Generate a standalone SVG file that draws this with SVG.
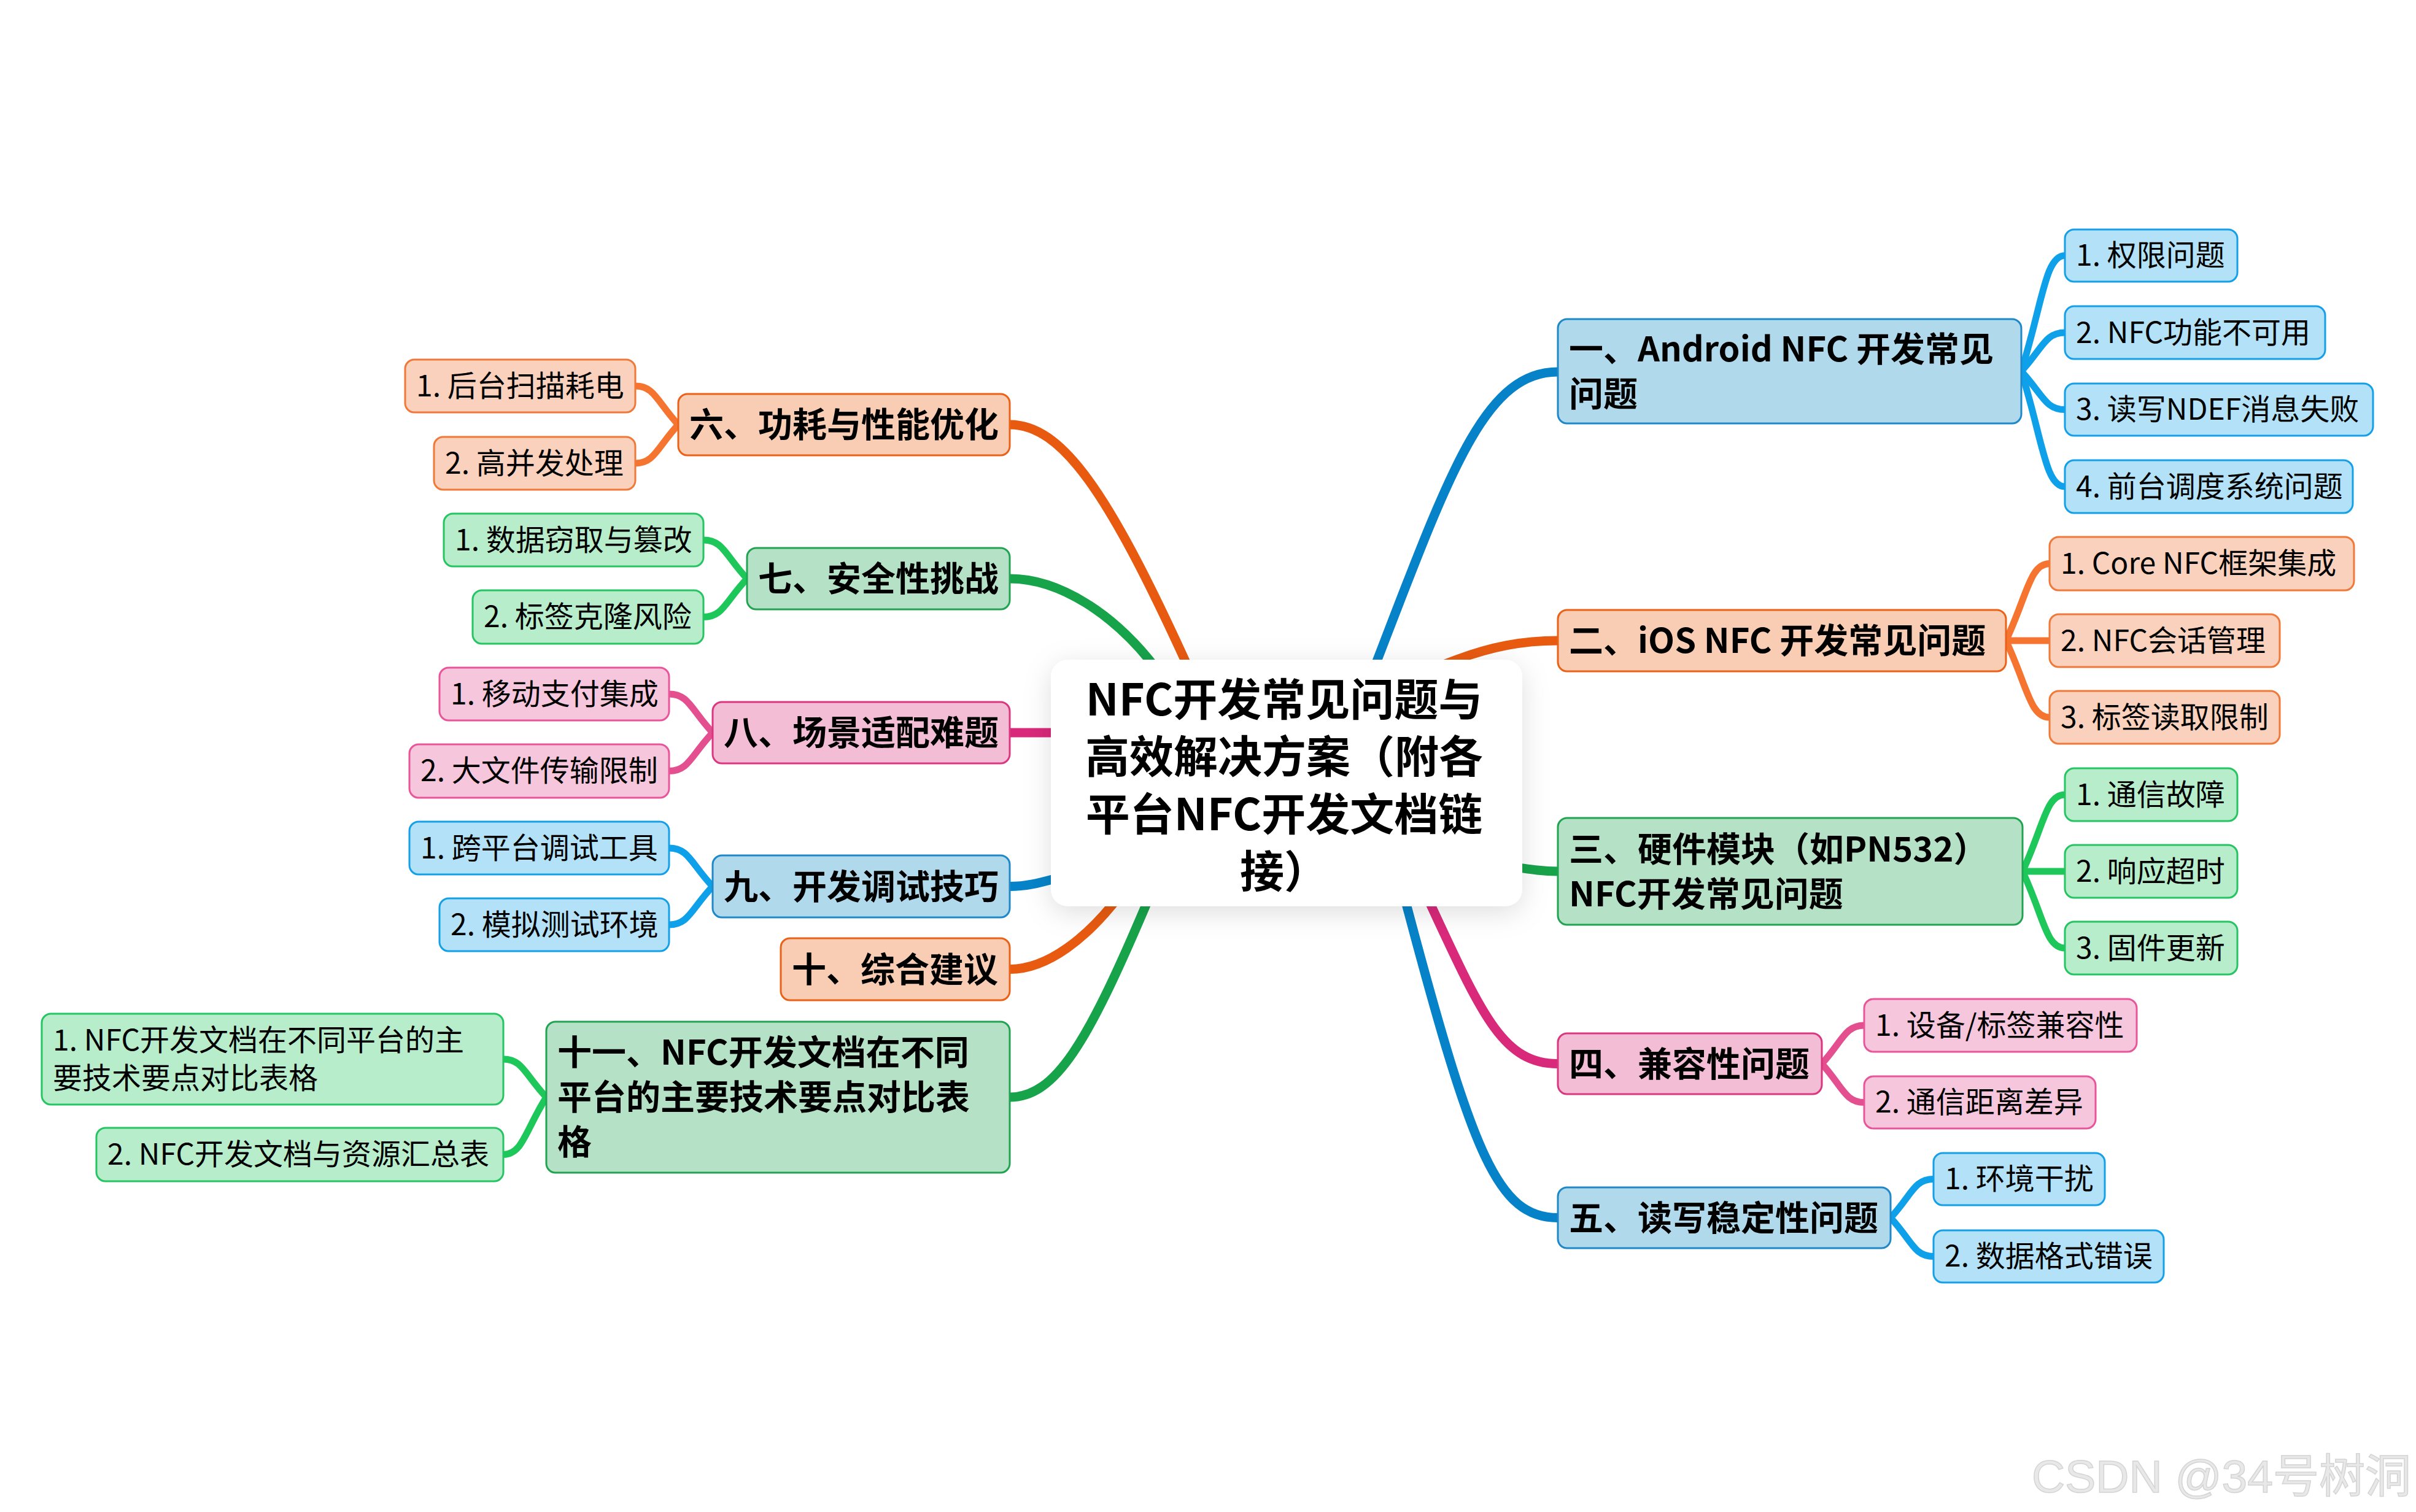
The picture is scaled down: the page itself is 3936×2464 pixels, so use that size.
<svg xmlns="http://www.w3.org/2000/svg" width="3936" height="2464" viewBox="0 0 3936 2464">
<defs>
<style>
text{font-family:"Noto Sans CJK SC","Noto Sans",sans-serif;fill:#000}
.root{font-size:72px;font-weight:700}
.mt{font-size:56px;font-weight:700}
.st{font-size:48px;font-weight:400}
.mc{fill:none;stroke-width:15;stroke-linecap:round}
.sc{fill:none;stroke-width:11;stroke-linecap:round}
.box{stroke-width:3}
.bM{fill:#b1d9ec;stroke:#1e88c8}.bS{fill:#b3e2f8;stroke:#14a0e8}
.oM{fill:#f8cdb3;stroke:#ea6118}.oS{fill:#f9d1bc;stroke:#f07838}
.gM{fill:#b5e2c6;stroke:#22a352}.gS{fill:#b7edcb;stroke:#26c462}
.pM{fill:#f2bdd5;stroke:#da3780}.pS{fill:#f6c6dc;stroke:#e8559a}
.bMc{stroke:#0683c8}.bSc{stroke:#0fa0ea}
.oMc{stroke:#e85a10}.oSc{stroke:#f47430}
.gMc{stroke:#17a34a}.gSc{stroke:#1ec75a}
.pMc{stroke:#d9297a}.pSc{stroke:#e4508f}
.wm{font-family:"Liberation Sans","Noto Sans CJK SC",sans-serif;font-size:75px;fill:#e8e8e8;stroke:#d4d4d4;stroke-width:1.5}
</style>
<filter id="sh" x="-20%" y="-30%" width="140%" height="160%">
<feDropShadow dx="0" dy="10" stdDeviation="22" flood-color="#000" flood-opacity="0.13"/>
</filter>
</defs>
<rect width="3936" height="2464" fill="#fff"/>

<g id="connectors">
<path class="mc bMc" d="M2221,1135 L2244,1075 C2364,763 2420,606 2538,606"/>
<path class="mc oMc" d="M2298,1103 L2373,1075 C2429,1054 2480,1044 2538,1044"/>
<path class="mc gMc" d="M2400,1404 C2470,1412 2500,1420 2538,1420"/>
<path class="mc pMc" d="M2298,1404 L2332,1477 C2416,1658 2450,1733.5 2538,1733.5"/>
<path class="mc bMc" d="M2271,1400 L2292,1477 C2400,1883 2440,1984.5 2538,1984.5"/>
<path class="mc oMc" d="M1963,1148 L1930,1075 C1805,802 1730,692 1645,692"/>
<path class="mc gMc" d="M1922,1137 L1872,1075 C1815,1005 1730,943 1645,943"/>
<path class="mc pMc" d="M1760,1194 L1645,1194"/>
<path class="mc bMc" d="M1780,1418 C1720,1428 1690,1444.5 1645,1444.5"/>
<path class="mc oMc" d="M1848,1431 L1810,1477 C1772,1523 1710,1579.5 1645,1579.5"/>
<path class="mc gMc" d="M1893,1413 L1866,1477 C1772,1698 1720,1788 1645,1788"/>

<path class="sc bSc" d="M3293,605 C3328,492 3332,416.5 3364,416.5"/>
<path class="sc bSc" d="M3293,605 C3328,567 3332,542 3364,542"/>
<path class="sc bSc" d="M3293,605 C3328,643 3332,667.5 3364,667.5"/>
<path class="sc bSc" d="M3293,605 C3328,718 3332,793 3364,793"/>

<path class="sc oSc" d="M3268,1044 C3303,969 3307,918.5 3339,918.5"/>
<path class="sc oSc" d="M3268,1044 L3339,1044"/>
<path class="sc oSc" d="M3268,1044 C3303,1119 3307,1169 3339,1169"/>

<path class="sc gSc" d="M3295,1420 C3330,1345 3333,1295 3364,1295"/>
<path class="sc gSc" d="M3295,1420 L3364,1420"/>
<path class="sc gSc" d="M3295,1420 C3330,1495 3333,1545 3364,1545"/>

<path class="sc pSc" d="M2968,1733.5 C3002,1696 3006,1671 3037,1671"/>
<path class="sc pSc" d="M2968,1733.5 C3002,1771 3006,1796.5 3037,1796.5"/>

<path class="sc bSc" d="M3080,1984.5 C3115,1947 3118,1921.5 3150,1921.5"/>
<path class="sc bSc" d="M3080,1984.5 C3115,2022 3118,2047.5 3150,2047.5"/>

<path class="sc oSc" d="M1105,692 C1070,654 1066,629 1035,629"/>
<path class="sc oSc" d="M1105,692 C1070,730 1066,755 1035,755"/>

<path class="sc gSc" d="M1217,943 C1181.5,905 1178,880 1146,880"/>
<path class="sc gSc" d="M1217,943 C1181.5,980.5 1178,1005.5 1146,1005.5"/>

<path class="sc pSc" d="M1161,1194 C1125.5,1156 1122,1131 1090,1131"/>
<path class="sc pSc" d="M1161,1194 C1125.5,1231.5 1122,1256.5 1090,1256.5"/>

<path class="sc bSc" d="M1161,1444.5 C1125.5,1407 1122,1382 1090,1382"/>
<path class="sc bSc" d="M1161,1444.5 C1125.5,1482 1122,1507 1090,1507"/>

<path class="sc gSc" d="M890,1788 C855,1751 851,1726 820,1726"/>
<path class="sc gSc" d="M890,1788 C855,1844 851,1881.5 820,1881.5"/>
</g>

<g id="root">
<rect x="1712" y="1075" width="768" height="402" rx="28" fill="#fff" filter="url(#sh)"/>
<text class="root" text-anchor="middle"><tspan x="2092" y="1166">NFC开发常见问题与</tspan><tspan x="2092" y="1259">高效解决方案（附各</tspan><tspan x="2092" y="1353">平台NFC开发文档链</tspan><tspan x="2092" y="1446">接）</tspan></text>
</g>

<g id="n1">
<rect class="box bM" x="2538" y="520" width="755" height="170" rx="15"/>
<text class="mt"><tspan x="2556" y="589">一、Android NFC 开发常见</tspan><tspan x="2556" y="662">问题</tspan></text>
</g>
<g id="n1-1"><rect class="box bS" x="3364" y="374" width="281" height="85" rx="15"/><text class="st" x="3382" y="433">1. 权限问题</text></g>
<g id="n1-2"><rect class="box bS" x="3364" y="499" width="424" height="86" rx="15"/><text class="st" x="3382" y="559">2. NFC功能不可用</text></g>
<g id="n1-3"><rect class="box bS" x="3364" y="625" width="502" height="85" rx="15"/><text class="st" x="3382" y="684">3. 读写NDEF消息失败</text></g>
<g id="n1-4"><rect class="box bS" x="3364" y="750" width="469" height="86" rx="15"/><text class="st" x="3382" y="810">4. 前台调度系统问题</text></g>

<g id="n2">
<rect class="box oM" x="2538" y="994" width="730" height="100" rx="15"/>
<text class="mt" x="2556" y="1064">二、iOS NFC 开发常见问题</text>
</g>
<g id="n2-1"><rect class="box oS" x="3339" y="875" width="496" height="87" rx="15"/><text class="st" x="3357" y="935">1. Core NFC框架集成</text></g>
<g id="n2-2"><rect class="box oS" x="3339" y="1001" width="375" height="86" rx="15"/><text class="st" x="3357" y="1061">2. NFC会话管理</text></g>
<g id="n2-3"><rect class="box oS" x="3339" y="1126" width="375" height="86" rx="15"/><text class="st" x="3357" y="1186">3. 标签读取限制</text></g>

<g id="n3">
<rect class="box gM" x="2538" y="1333" width="757" height="174" rx="15"/>
<text class="mt"><tspan x="2556" y="1404">三、硬件模块（如PN532）</tspan><tspan x="2556" y="1477">NFC开发常见问题</tspan></text>
</g>
<g id="n3-1"><rect class="box gS" x="3364" y="1252" width="281" height="86" rx="15"/><text class="st" x="3382" y="1312">1. 通信故障</text></g>
<g id="n3-2"><rect class="box gS" x="3364" y="1377" width="281" height="86" rx="15"/><text class="st" x="3382" y="1437">2. 响应超时</text></g>
<g id="n3-3"><rect class="box gS" x="3364" y="1502" width="281" height="86" rx="15"/><text class="st" x="3382" y="1562">3. 固件更新</text></g>

<g id="n4">
<rect class="box pM" x="2538" y="1684" width="430" height="99" rx="15"/>
<text class="mt" x="2556" y="1754">四、兼容性问题</text>
</g>
<g id="n4-1"><rect class="box pS" x="3037" y="1628" width="444" height="86" rx="15"/><text class="st" x="3055" y="1688">1. 设备/标签兼容性</text></g>
<g id="n4-2"><rect class="box pS" x="3037" y="1754" width="377" height="85" rx="15"/><text class="st" x="3055" y="1813">2. 通信距离差异</text></g>

<g id="n5">
<rect class="box bM" x="2538" y="1935" width="542" height="99" rx="15"/>
<text class="mt" x="2556" y="2005">五、读写稳定性问题</text>
</g>
<g id="n5-1"><rect class="box bS" x="3150" y="1879" width="279" height="85" rx="15"/><text class="st" x="3168" y="1938">1. 环境干扰</text></g>
<g id="n5-2"><rect class="box bS" x="3150" y="2005" width="375" height="85" rx="15"/><text class="st" x="3168" y="2064">2. 数据格式错误</text></g>

<g id="n6">
<rect class="box oM" x="1105" y="642" width="540" height="100" rx="15"/>
<text class="mt" x="1123" y="712">六、功耗与性能优化</text>
</g>
<g id="n6-1"><rect class="box oS" x="660" y="586" width="375" height="86" rx="15"/><text class="st" x="678" y="646">1. 后台扫描耗电</text></g>
<g id="n6-2"><rect class="box oS" x="707" y="712" width="328" height="86" rx="15"/><text class="st" x="725" y="772">2. 高并发处理</text></g>

<g id="n7">
<rect class="box gM" x="1217" y="893" width="428" height="100" rx="15"/>
<text class="mt" x="1235" y="963">七、安全性挑战</text>
</g>
<g id="n7-1"><rect class="box gS" x="723" y="837" width="423" height="86" rx="15"/><text class="st" x="741" y="897">1. 数据窃取与篡改</text></g>
<g id="n7-2"><rect class="box gS" x="770" y="962" width="376" height="87" rx="15"/><text class="st" x="788" y="1022">2. 标签克隆风险</text></g>

<g id="n8">
<rect class="box pM" x="1161" y="1144" width="484" height="100" rx="15"/>
<text class="mt" x="1179" y="1214">八、场景适配难题</text>
</g>
<g id="n8-1"><rect class="box pS" x="716" y="1088" width="374" height="86" rx="15"/><text class="st" x="734" y="1148">1. 移动支付集成</text></g>
<g id="n8-2"><rect class="box pS" x="667" y="1213" width="423" height="87" rx="15"/><text class="st" x="685" y="1273">2. 大文件传输限制</text></g>

<g id="n9">
<rect class="box bM" x="1161" y="1394" width="484" height="101" rx="15"/>
<text class="mt" x="1179" y="1465">九、开发调试技巧</text>
</g>
<g id="n9-1"><rect class="box bS" x="667" y="1339" width="423" height="86" rx="15"/><text class="st" x="685" y="1399">1. 跨平台调试工具</text></g>
<g id="n9-2"><rect class="box bS" x="716" y="1464" width="374" height="86" rx="15"/><text class="st" x="734" y="1524">2. 模拟测试环境</text></g>

<g id="n10">
<rect class="box oM" x="1272" y="1529" width="373" height="101" rx="15"/>
<text class="mt" x="1290" y="1600">十、综合建议</text>
</g>

<g id="n11">
<rect class="box gM" x="890" y="1665" width="755" height="246" rx="15"/>
<text class="mt"><tspan x="908" y="1735">十一、NFC开发文档在不同</tspan><tspan x="908" y="1808">平台的主要技术要点对比表</tspan><tspan x="908" y="1881">格</tspan></text>
</g>
<g id="n11-1"><rect class="box gS" x="68" y="1652" width="752" height="148" rx="15"/><text class="st"><tspan x="86" y="1712">1. NFC开发文档在不同平台的主</tspan><tspan x="86" y="1774">要技术要点对比表格</tspan></text></g>
<g id="n11-2"><rect class="box gS" x="157" y="1838" width="663" height="87" rx="15"/><text class="st" x="175" y="1898">2. NFC开发文档与资源汇总表</text></g>

<text class="wm" x="3928" y="2432" text-anchor="end">CSDN @34号树洞</text>
</svg>
